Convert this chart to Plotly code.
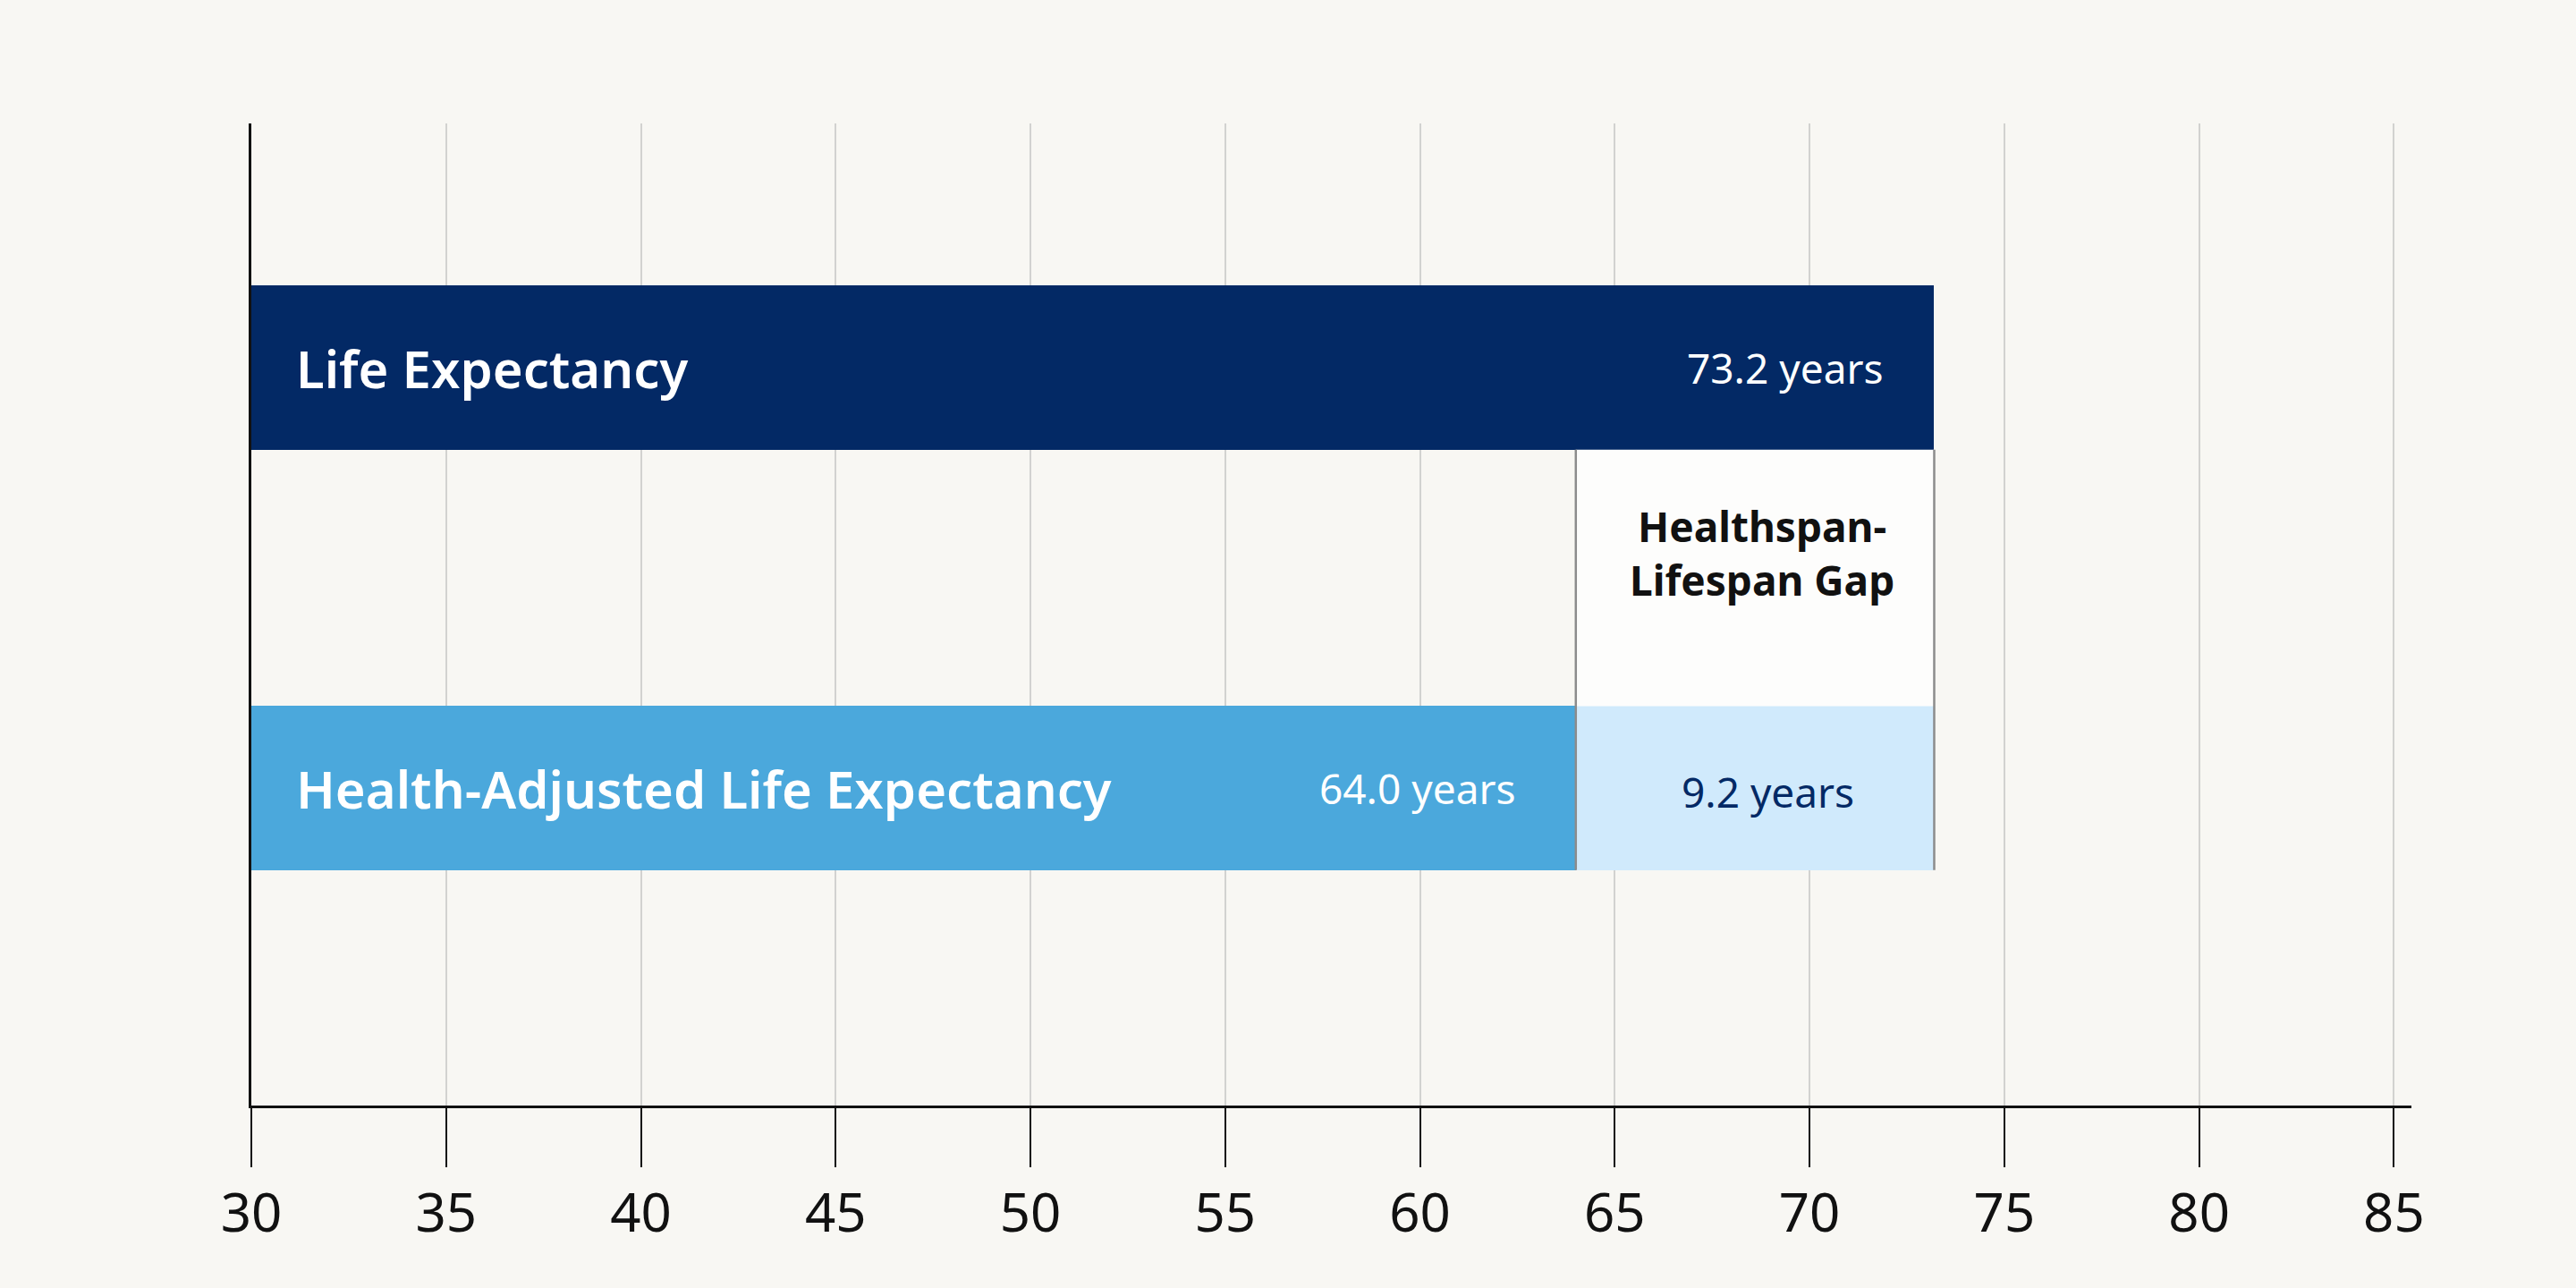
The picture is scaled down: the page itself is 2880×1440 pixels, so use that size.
import plotly.graph_objects as go

# Data
categories = ["Health-Adjusted Life Expectancy", "Life Expectancy"]
life_expectancy = 73.2
hale = 64.0
gap = round(life_expectancy - hale, 1)
tick_vals = [30, 35, 40, 45, 50, 55, 60, 65, 70, 75, 80, 85]

NAVY = "#032965"
BLUE = "#4ba8dc"
LIGHT = "#d0eafc"
BG = "#f8f7f3"
FONT = "Noto Sans"
BAR_W = 0.39

fig = go.Figure()

# Life Expectancy bar
fig.add_trace(go.Bar(
    y=[categories[1]], x=[life_expectancy], base=0, orientation="h",
    width=BAR_W, marker=dict(color=NAVY, line=dict(width=0)),
    hoverinfo="skip", showlegend=False))

# Health-adjusted bar
fig.add_trace(go.Bar(
    y=[categories[0]], x=[hale], base=0, orientation="h",
    width=BAR_W, marker=dict(color=BLUE, line=dict(width=0)),
    hoverinfo="skip", showlegend=False))

# Gap segment
fig.add_trace(go.Bar(
    y=[categories[0]], x=[gap], base=hale, orientation="h",
    width=BAR_W, marker=dict(color=LIGHT, line=dict(width=0)),
    hoverinfo="skip", showlegend=False))

# White gap box between the two bars
fig.add_shape(type="rect", xref="x", yref="y",
              x0=hale, x1=life_expectancy, y0=BAR_W / 2, y1=1 - BAR_W / 2,
              fillcolor="#fdfdfc", line=dict(width=0), layer="above")
for xv in [hale, life_expectancy]:
    fig.add_shape(type="line", xref="x", yref="y",
                  x0=xv, x1=xv, y0=-BAR_W / 2, y1=1 - BAR_W / 2,
                  line=dict(color="#8c8c8c", width=2.5), layer="above")

# Labels inside bars
fig.add_annotation(x=30, y=categories[1], xref="x", yref="y",
                   text="Life Expectancy", showarrow=False,
                   xanchor="left", xshift=48,
                   font=dict(family=FONT, size=58, color="white", weight=600))
fig.add_annotation(x=30, y=categories[0], xref="x", yref="y",
                   text="Health-Adjusted Life Expectancy", showarrow=False,
                   xanchor="left", xshift=48,
                   font=dict(family=FONT, size=58, color="white", weight=600))
fig.add_annotation(x=life_expectancy, y=categories[1], xref="x", yref="y",
                   text=f"{life_expectancy:.1f} years", showarrow=False,
                   xanchor="right", xshift=-55,
                   font=dict(family=FONT, size=46, color="white"))
fig.add_annotation(x=hale, y=categories[0], xref="x", yref="y",
                   text=f"{hale:.1f} years", showarrow=False,
                   xanchor="right", xshift=-66,
                   font=dict(family=FONT, size=46, color="white"))
fig.add_annotation(x=(hale + life_expectancy) / 2, y=categories[0], xref="x", yref="y",
                   text=f"{gap:.1f} years", showarrow=False, xshift=14, yshift=-4,
                   font=dict(family=FONT, size=46, color=NAVY))
fig.add_annotation(x=(hale + life_expectancy) / 2, y=0.5, xref="x", yref="y",
                   text="Healthspan-<br>Lifespan Gap", showarrow=False, xshift=8, yshift=28,
                   font=dict(family=FONT, size=46, color="#111111", weight=700))

fig.update_layout(
    width=2880, height=1440,
    paper_bgcolor=BG, plot_bgcolor=BG,
    margin=dict(l=281, r=184, t=138, b=204),
    barmode="overlay",
    bargap=0,
)
fig.update_xaxes(
    range=[30, 85.45], tickvals=tick_vals,
    showgrid=True, gridcolor="#d2d2d0", gridwidth=2,
    showline=True, linecolor="#111111", linewidth=3,
    ticks="outside", ticklen=66, tickwidth=2, tickcolor="#111111",
    tickfont=dict(family=FONT, size=60, color="#111111"),
    zeroline=False, fixedrange=True,
)
fig.update_yaxes(
    type="category", categoryorder="array", categoryarray=categories,
    range=[-0.755, 1.581],
    showticklabels=False, showgrid=False, zeroline=False,
    showline=True, linecolor="#111111", linewidth=3, ticks="",
    fixedrange=True,
)

# drop the page's default body margin so the chart fills the window
page_js = "document.body.style.margin='0';document.body.style.background='%s';" % BG
fig.write_html("out.html", post_script=page_js, config={"displayModeBar": False})
